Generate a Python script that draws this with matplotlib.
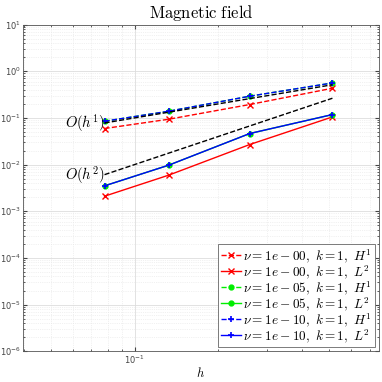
import matplotlib
matplotlib.use("Agg")
import matplotlib.pyplot as plt
import numpy as np

plt.rcParams.update({
    "mathtext.fontset": "cm",
    "font.family": "DejaVu Sans",
    "font.size": 7,
    "axes.edgecolor": "#555555",
    "axes.linewidth": 0.6,
    "xtick.color": "#444444",
    "ytick.color": "#444444",
})

# mesh sizes
h = [0.078, 0.1326, 0.2593, 0.514]

# errors per nu
h1_nu0 = [0.0593, 0.0937, 0.1937, 0.4325]
l2_nu0 = [0.0021, 0.00593, 0.0269, 0.105]
h1_nu5 = [0.0849, 0.139, 0.292, 0.561]
l2_nu5 = [0.0035, 0.0097, 0.0463, 0.118]
h1_nu10 = [0.0849, 0.139, 0.292, 0.561]
l2_nu10 = [0.0035, 0.0097, 0.0463, 0.118]

fig = plt.figure(figsize=(3.82, 3.82), dpi=100)
ax = fig.add_axes([0.060, 0.0806, 0.931, 0.855])

ax.loglog(h, h1_nu0, "x--", color="red", lw=1, ms=4, mew=1,
          label=r"$\nu=1e-00,\ k=1,\ H^1$")
ax.loglog(h, l2_nu0, "x-", color="red", lw=1, ms=4, mew=1,
          label=r"$\nu=1e-00,\ k=1,\ L^2$")
ax.loglog(h, h1_nu5, "o--", color="#00ee00", lw=1, ms=3.5,
          label=r"$\nu=1e-05,\ k=1,\ H^1$")
ax.loglog(h, l2_nu5, "o-", color="#00ee00", lw=1, ms=3.5,
          label=r"$\nu=1e-05,\ k=1,\ L^2$")
ax.loglog(h, h1_nu10, "+--", color="blue", lw=1, ms=5, mew=1.2,
          label=r"$\nu=1e-10,\ k=1,\ H^1$")
ax.loglog(h, l2_nu10, "+-", color="blue", lw=1, ms=5, mew=1.2,
          label=r"$\nu=1e-10,\ k=1,\ L^2$")

# reference slopes
hr = np.array([h[0], h[-1]])
ax.loglog(hr, hr, "--", color="black", lw=1)
ax.loglog(hr, hr ** 2, "--", color="black", lw=1)
ax.text(h[0] * 0.997, hr[0], r"$O(h^1)$", ha="right", va="center", fontsize=10.5)
ax.text(h[0] * 0.997, hr[0] ** 2, r"$O(h^2)$", ha="right", va="center", fontsize=10.5)

ax.set_xlim(0.0397, 0.753)
ax.set_ylim(1e-6, 1e1)
ax.grid(True, which="major", color="#dddddd", lw=0.6)
ax.grid(True, which="minor", color="#e4e4e4", lw=0.5, ls=":")
ax.tick_params(which="both", direction="in", top=True, right=True,
               labelsize=6, pad=1.5)
ax.tick_params(which="major", length=3)
ax.tick_params(which="minor", length=1.5)

ax.set_title(r"$\mathrm{Magnetic\ field}$", fontsize=12, pad=5)
ax.set_xlabel(r"$h$", fontsize=9, labelpad=0)

leg = ax.legend(loc="lower right", fontsize=9.5, handlelength=1.5,
                borderpad=0.2, labelspacing=-0.12, handletextpad=0.2,
                borderaxespad=0.3, fancybox=False, framealpha=1)
leg.get_frame().set_edgecolor("#666666")
leg.get_frame().set_linewidth(0.6)

fig.savefig("out.png", dpi=100)
